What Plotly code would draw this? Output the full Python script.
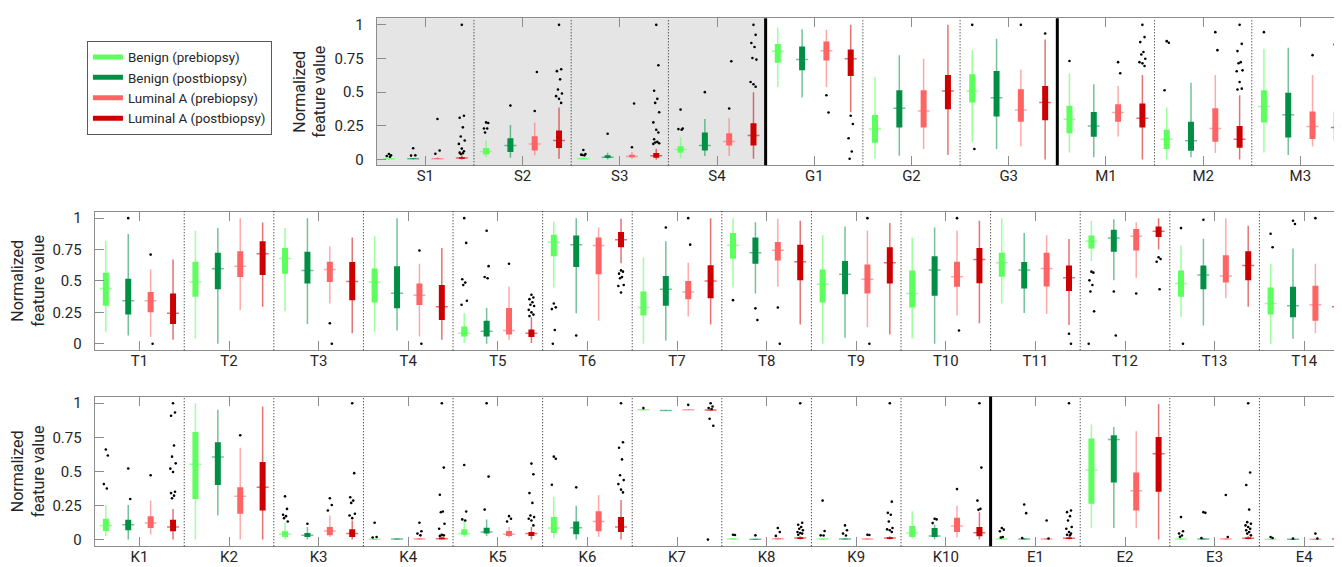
import plotly.graph_objects as go

# ---------------- data ----------------
SERIES = ["Benign (prebiopsy)", "Benign (postbiopsy)",
          "Luminal A (prebiopsy)", "Luminal A (postbiopsy)"]

# stats per feature: [lower whisker, q1, median, q3, upper whisker]
row1_features = ["S1", "S2", "S3", "S4", "G1", "G2", "G3", "M1", "M2", "M3"]
row1_benign_pre = [
    [0.0, 0.002, 0.004, 0.006, 0.01], [0.017, 0.037, 0.059, 0.084, 0.14],
    [0.0, 0.003, 0.005, 0.008, 0.012], [0.01, 0.049, 0.074, 0.098, 0.165],
    [0.538, 0.718, 0.803, 0.858, 0.98], [0.005, 0.123, 0.226, 0.33, 0.612],
    [0.13, 0.422, 0.509, 0.632, 0.812], [0.052, 0.195, 0.299, 0.398, 0.64],
    [0.0, 0.077, 0.15, 0.22, 0.385], [0.052, 0.274, 0.393, 0.514, 0.822]]
row1_benign_post = [
    [0.0, 0.002, 0.004, 0.006, 0.01], [0.012, 0.054, 0.103, 0.157, 0.256],
    [0.0, 0.01, 0.015, 0.03, 0.05], [0.025, 0.066, 0.103, 0.20, 0.30],
    [0.46, 0.663, 0.742, 0.84, 0.968], [0.027, 0.237, 0.38, 0.514, 0.775],
    [0.077, 0.319, 0.459, 0.657, 0.896], [0.015, 0.168, 0.249, 0.353, 0.558],
    [0.015, 0.064, 0.138, 0.279, 0.57], [0.032, 0.163, 0.331, 0.496, 0.83]]
row1_luminal_pre = [
    [0.0, 0.002, 0.005, 0.008, 0.015], [0.03, 0.066, 0.115, 0.172, 0.275],
    [0.005, 0.015, 0.022, 0.034, 0.054], [0.025, 0.103, 0.133, 0.194, 0.305],
    [0.538, 0.735, 0.808, 0.877, 0.963], [0.077, 0.237, 0.36, 0.514, 0.748],
    [0.096, 0.279, 0.368, 0.521, 0.669], [0.17, 0.279, 0.348, 0.41, 0.546],
    [0.047, 0.131, 0.23, 0.38, 0.627], [0.096, 0.151, 0.244, 0.356, 0.627]]
row1_luminal_post = [
    [0.0, 0.005, 0.01, 0.015, 0.03], [0.005, 0.084, 0.14, 0.214, 0.386],
    [0.0, 0.012, 0.027, 0.047, 0.079], [0.005, 0.103, 0.177, 0.268, 0.50],
    [0.35, 0.619, 0.749, 0.816, 1.0], [0.032, 0.373, 0.509, 0.627, 1.0],
    [0.0, 0.291, 0.422, 0.546, 0.891], [0.0, 0.237, 0.306, 0.415, 0.627],
    [0.0, 0.086, 0.15, 0.249, 0.477], [0.0, 0.138, 0.237, 0.356, 0.662]]
row1_benign_pre_out = [
    [0.04, 0.03, 0.025, 0.02], [0.275, 0.27, 0.23, 0.23, 0.20],
    [0.07, 0.04, 0.035, 0.03, 0.033], [0.37, 0.23, 0.225, 0.22],
    [], [], [1.0, 0.077], [0.731], [0.879, 0.867, 0.514], [0.946]]
row1_benign_post_out = [
    [0.083, 0.03, 0.028], [0.40], [0.19], [0.50], [], [], [], [], [], []]
row1_luminal_pre_out = [
    [0.30, 0.066, 0.042], [0.36, 0.65], [0.09, 0.415], [0.378, 0.73],
    [0.477, 0.349], [], [1.0], [0.723, 0.64], [0.946, 0.812], [0.775]]
row1_luminal_post_out = [
    [1.0, 0.324, 0.31, 0.238, 0.17, 0.14, 0.115, 0.08, 0.06, 0.05, 0.045, 0.04],
    [1.0, 0.67, 0.656, 0.595, 0.52, 0.49, 0.47, 0.45, 0.42],
    [1.0, 0.70, 0.51, 0.45, 0.42, 0.35, 0.275, 0.22, 0.20, 0.15, 0.13, 0.125, 0.12, 0.115],
    [1.0, 0.926, 0.865, 0.835, 0.754, 0.742, 0.575, 0.558, 0.54],
    [0.324, 0.263, 0.157, 0.059, 0.005], [], [0.936],
    [1.0, 0.909, 0.872, 0.798, 0.78, 0.748, 0.723, 0.714, 0.694],
    [1.0, 0.859, 0.805, 0.723, 0.715, 0.662, 0.655, 0.575, 0.526, 0.52],
    [1.0, 0.97, 0.854, 0.84, 0.743, 0.694]]

row2_features = ["T1", "T2", "T3", "T4", "T5", "T6", "T7", "T8", "T9", "T10",
                 "T11", "T12", "T13", "T14"]
row2_benign_pre = [
    [0.092, 0.303, 0.44, 0.566, 0.821], [0.04, 0.374, 0.492, 0.653, 0.9],
    [0.258, 0.558, 0.679, 0.763, 0.921], [0.092, 0.329, 0.492, 0.6, 0.855],
    [0.005, 0.058, 0.084, 0.137, 0.242], [0.447, 0.697, 0.808, 0.868, 0.974],
    [0.0, 0.224, 0.289, 0.416, 0.689], [0.447, 0.676, 0.784, 0.882, 1.0],
    [0.0, 0.329, 0.474, 0.592, 0.863], [0.04, 0.289, 0.4, 0.584, 0.847],
    [0.321, 0.534, 0.645, 0.724, 1.0], [0.658, 0.758, 0.816, 0.861, 0.979],
    [0.21, 0.374, 0.479, 0.584, 0.782], [0.0, 0.232, 0.321, 0.447, 0.637]]
row2_benign_post = [
    [0.066, 0.232, 0.342, 0.518, 0.874], [0.0, 0.434, 0.597, 0.724, 0.921],
    [0.158, 0.479, 0.584, 0.732, 1.0], [0.105, 0.282, 0.403, 0.618, 1.0],
    [0.0, 0.058, 0.1, 0.184, 0.284], [0.242, 0.611, 0.789, 0.861, 1.0],
    [0.026, 0.303, 0.434, 0.539, 0.816], [0.4, 0.637, 0.724, 0.847, 0.968],
    [0.047, 0.395, 0.553, 0.658, 0.934], [0.0, 0.382, 0.587, 0.697, 0.926],
    [0.245, 0.439, 0.587, 0.65, 0.882], [0.505, 0.732, 0.842, 0.908, 0.992],
    [0.145, 0.434, 0.547, 0.624, 0.837], [0.04, 0.21, 0.303, 0.453, 0.758]]
row2_luminal_pre = [
    [0.053, 0.25, 0.342, 0.413, 0.592], [0.268, 0.532, 0.618, 0.737, 1.0],
    [0.321, 0.492, 0.592, 0.653, 0.776], [0.058, 0.308, 0.387, 0.479, 0.637],
    [0.032, 0.074, 0.105, 0.284, 0.453], [0.184, 0.553, 0.782, 0.847, 0.926],
    [0.216, 0.355, 0.413, 0.5, 0.645], [0.453, 0.663, 0.745, 0.811, 0.995],
    [0.132, 0.4, 0.513, 0.632, 0.9], [0.224, 0.453, 0.534, 0.653, 0.9],
    [0.237, 0.455, 0.6, 0.724, 0.863], [0.526, 0.742, 0.855, 0.913, 0.968],
    [0.363, 0.487, 0.539, 0.705, 1.0], [0.084, 0.184, 0.311, 0.461, 0.637]]
row2_luminal_post = [
    [0.032, 0.158, 0.242, 0.40, 0.671], [0.295, 0.547, 0.716, 0.816, 0.966],
    [0.084, 0.347, 0.495, 0.65, 0.847], [0.032, 0.189, 0.295, 0.468, 0.763],
    [0.005, 0.053, 0.084, 0.113, 0.21], [0.64, 0.768, 0.829, 0.889, 0.995],
    [0.153, 0.363, 0.5, 0.626, 1.0], [0.153, 0.505, 0.653, 0.789, 0.979],
    [0.074, 0.479, 0.645, 0.768, 0.961], [0.163, 0.482, 0.671, 0.763, 0.979],
    [0.15, 0.421, 0.526, 0.624, 0.834], [0.75, 0.85, 0.895, 0.934, 1.0],
    [0.295, 0.505, 0.624, 0.737, 0.939], [0.066, 0.218, 0.295, 0.395, 0.658]]
row2_benign_pre_out = [
    [], [], [], [], [1.0, 0.803, 0.513, 0.487, 0.468, 0.342, 0.31],
    [0.321, 0.29, 0.276, 0.11, 0.0], [], [0.347], [], [], [],
    [0.574, 0.566, 0.505, 0.468, 0.416, 0.258, 0.0], [0.921, 0.0], [0.876, 0.768]]
row2_benign_post_out = [
    [1.0], [], [], [], [0.9, 0.618, 0.532, 0.521], [0.066], [0.926],
    [0.282, 0.189], [], [], [], [0.416, 0.066], [0.987], [0.979, 0.953]]
row2_luminal_pre_out = [
    [0.71, 0.0], [], [0.163, 0.0], [0.742, 0.0], [0.637], [], [1.0, 0.789],
    [0.289, 0.0], [1.0, 0.0], [1.0, 0.105], [], [0.4], [], [1.0]]
row2_luminal_post_out = [
    [], [], [], [], [0.39, 0.368, 0.355, 0.33, 0.31, 0.3, 0.27, 0.25, 0.232, 0.22],
    [0.584, 0.574, 0.558, 0.532, 0.522, 0.468, 0.46, 0.408], [], [], [], [],
    [0.079, 0.0], [0.689, 0.675, 0.653, 0.434], [], [0.716, 0.666]]

row3_features = ["K1", "K2", "K3", "K4", "K5", "K6", "K7", "K8", "K9", "K10",
                 "E1", "E2", "E3", "E4"]
row3_benign_pre = [
    [0.027, 0.063, 0.104, 0.153, 0.254], [0.0, 0.298, 0.552, 0.789, 1.0],
    [0.0, 0.019, 0.039, 0.061, 0.123], [0.0, 0.001, 0.002, 0.005, 0.008],
    [0.019, 0.036, 0.044, 0.075, 0.14], [0.012, 0.048, 0.085, 0.165, 0.315],
    [0.948, 0.95, 0.952, 0.954, 0.956], [0.0, 0.002, 0.005, 0.008, 0.012],
    [0.0, 0.002, 0.004, 0.007, 0.012], [0.007, 0.019, 0.048, 0.099, 0.208],
    [0.0, 0.002, 0.004, 0.006, 0.01], [0.085, 0.262, 0.511, 0.741, 0.843],
    [0.0, 0.002, 0.004, 0.006, 0.01], [0.0, 0.001, 0.002, 0.004, 0.006]]
row3_benign_post = [
    [0.0, 0.068, 0.109, 0.145, 0.254], [0.177, 0.4, 0.605, 0.714, 0.952],
    [0.0, 0.019, 0.031, 0.048, 0.092], [0.0, 0.002, 0.004, 0.006, 0.008],
    [0.027, 0.044, 0.056, 0.087, 0.148], [0.0, 0.039, 0.087, 0.133, 0.249],
    [0.945, 0.946, 0.947, 0.948, 0.95], [0.0, 0.001, 0.002, 0.004, 0.006],
    [0.0, 0.002, 0.004, 0.006, 0.01], [0.0, 0.019, 0.027, 0.085, 0.11],
    [0.0, 0.002, 0.004, 0.006, 0.01], [0.085, 0.419, 0.734, 0.765, 0.826],
    [0.0, 0.002, 0.004, 0.006, 0.01], [0.0, 0.001, 0.002, 0.004, 0.006]]
row3_luminal_pre = [
    [0.039, 0.085, 0.121, 0.172, 0.286], [0.0, 0.189, 0.317, 0.383, 0.673],
    [0.019, 0.031, 0.063, 0.092, 0.177], [0.0, 0.002, 0.005, 0.008, 0.012],
    [0.015, 0.027, 0.039, 0.063, 0.092], [0.019, 0.061, 0.133, 0.208, 0.327],
    [0.95, 0.951, 0.952, 0.953, 0.955], [0.0, 0.003, 0.007, 0.01, 0.015],
    [0.0, 0.002, 0.004, 0.007, 0.012], [0.015, 0.056, 0.099, 0.16, 0.249],
    [0.0, 0.002, 0.004, 0.006, 0.01], [0.085, 0.213, 0.358, 0.492, 0.794],
    [0.0, 0.002, 0.004, 0.006, 0.01], [0.0, 0.001, 0.002, 0.004, 0.006]]
row3_luminal_post = [
    [0.0, 0.061, 0.092, 0.145, 0.225], [0.0, 0.213, 0.383, 0.569, 0.976],
    [0.0, 0.019, 0.044, 0.075, 0.14], [0.0, 0.002, 0.007, 0.015, 0.025],
    [0.0, 0.027, 0.044, 0.056, 0.092], [0.0, 0.056, 0.092, 0.165, 0.291],
    [0.946, 0.948, 0.95, 0.952, 0.955], [0.0, 0.005, 0.012, 0.018, 0.025],
    [0.0, 0.005, 0.012, 0.018, 0.025], [0.0, 0.024, 0.051, 0.092, 0.201],
    [0.0, 0.004, 0.01, 0.016, 0.025], [0.0, 0.351, 0.63, 0.753, 0.995],
    [0.0, 0.004, 0.01, 0.016, 0.025], [0.0, 0.002, 0.005, 0.008, 0.012]]
row3_benign_pre_out = [
    [0.661, 0.617, 0.407, 0.375], [], [0.317, 0.225, 0.182, 0.172, 0.157, 0.133],
    [0.123, 0.019, 0.015], [0.547, 0.206, 0.148, 0.14], [0.608, 0.593, 0.402],
    [0.964], [0.036, 0.034], [0.286, 0.063, 0.031, 0.03], [],
    [0.085, 0.073, 0.061, 0.019, 0.015], [], [0.165, 0.061, 0.045, 0.03, 0.02],
    [0.019, 0.012]]
row3_benign_post_out = [
    [0.521, 0.298], [], [0.116], [], [1.0, 0.462, 0.22], [0.383], [], [0.031],
    [0.104, 0.068, 0.044, 0.03], [0.153, 0.148, 0.121], [0.257, 0.194, 0.012],
    [], [0.201, 0.196, 0.012], [0.008]]
row3_luminal_pre_out = [
    [0.472], [0.765], [0.303, 0.254, 0.213], [0.123, 0.061, 0.044, 0.031],
    [0.172, 0.153, 0.133], [], [0.988], [0.085, 0.056, 0.027], [0.036, 0.034],
    [0.37], [0.14, 0.008], [], [0.327, 0.019], [0.044, 0.008]]
row3_luminal_post_out = [
    [1.0, 0.932, 0.908, 0.69, 0.608, 0.559, 0.52, 0.496, 0.351, 0.341, 0.322, 0.303],
    [], [1.0, 0.487, 0.31, 0.286, 0.269, 0.189, 0.177, 0.157],
    [1.0, 0.528, 0.329, 0.206, 0.2, 0.116, 0.08, 0.036, 0.031, 0.027],
    [0.557, 0.479, 0.341, 0.269, 0.177, 0.165, 0.153, 0.14, 0.104],
    [1.0, 0.714, 0.673, 0.588, 0.472, 0.436, 0.407, 0.366, 0.346],
    [1.0, 0.976, 0.965, 0.958, 0.886, 0.835, 0.0],
    [1.0, 0.123, 0.109, 0.092, 0.08, 0.068, 0.056, 0.048, 0.044, 0.036],
    [1.0, 0.278, 0.196, 0.182, 0.133, 0.085, 0.075, 0.068, 0.056],
    [1.0, 0.528, 0.286, 0.225, 0.218],
    [1.0, 0.213, 0.201, 0.172, 0.14, 0.092, 0.08, 0.056, 0.044, 0.036, 0.031],
    [], [1.0, 0.492, 0.4, 0.22, 0.128, 0.116, 0.104, 0.092, 0.08, 0.068, 0.056, 0.044, 0.031],
    [0.051, 0.019, 0.012]]

Y_TICKS = [0, 0.25, 0.5, 0.75, 1]
Y_TICKTEXT = ["0", "0.25", "0.5", "0.75", "1"]

# ---------------- style ----------------
W, H = 1342, 567
COLORS = ["#5cff5c", "#008f45", "#ff6464", "#cc0000"]
FADED = ["rgba(92,255,92,0.6)", "rgba(0,143,69,0.55)",
         "rgba(255,100,100,0.55)", "rgba(204,0,0,0.55)"]
OFFSETS = [-0.375, -0.125, 0.125, 0.375]
AXCOL = "#8c8c8c"
TXT = "#262626"
FONT = "Roboto"

ROWS = [
    dict(features=row1_features,
         stats=[row1_benign_pre, row1_benign_post, row1_luminal_pre, row1_luminal_post],
         outs=[row1_benign_pre_out, row1_benign_post_out, row1_luminal_pre_out, row1_luminal_post_out],
         left=369, right=1342, top=8.3, bottom=156.7, yr=[-0.0442, 1.0494],
         shade=(0.5, 4.5), thick=[4.5, 7.5]),
    dict(features=row2_features,
         stats=[row2_benign_pre, row2_benign_post, row2_luminal_pre, row2_luminal_post],
         outs=[row2_benign_pre_out, row2_benign_post_out, row2_luminal_pre_out, row2_luminal_post_out],
         left=86.7, right=1342, top=203.3, bottom=343.3, yr=[-0.052, 1.053],
         shade=None, thick=[]),
    dict(features=row3_features,
         stats=[row3_benign_pre, row3_benign_post, row3_luminal_pre, row3_luminal_post],
         outs=[row3_benign_pre_out, row3_benign_post_out, row3_luminal_pre_out, row3_luminal_post_out],
         left=86.7, right=1342, top=390, bottom=541, yr=[-0.0487, 1.0487],
         shade=None, thick=[10.5]),
]

JIT = [0.0, 0.022, -0.022, 0.011, -0.011, 0.03, -0.03]

fig = go.Figure()
shapes = []
layout_axes = {}

for r, row in enumerate(ROWS):
    sfx = "" if r == 0 else str(r + 1)
    xa, ya = "x" + sfx, "y" + sfx
    n = len(row["features"])
    gw = (row["right"] - row["left"]) / n
    mhalf = 6.0 / gw
    ox, oy = [], []
    for s in range(4):
        wx, wy, bx, by, mx, my = [], [], [], [], [], []
        for g in range(n):
            lo, q1, med, q3, hi = row["stats"][s][g]
            pos = g + 1 + OFFSETS[s]
            wx += [pos, pos, None]; wy += [lo, hi, None]
            bx += [pos, pos, None]; by += [q1, q3, None]
            mx += [pos - mhalf, pos + mhalf, None]; my += [med, med, None]
            for k, v in enumerate(row["outs"][s][g]):
                ox.append(pos + JIT[k % len(JIT)])
                oy.append(v)
        fig.add_trace(go.Scatter(x=wx, y=wy, mode="lines", xaxis=xa, yaxis=ya,
                                 line=dict(color=FADED[s], width=1.5),
                                 showlegend=False, hoverinfo="skip"))
        fig.add_trace(go.Scatter(x=bx, y=by, mode="lines", xaxis=xa, yaxis=ya,
                                 line=dict(color=COLORS[s], width=6),
                                 showlegend=False, hoverinfo="skip"))
        fig.add_trace(go.Scatter(x=mx, y=my, mode="lines", xaxis=xa, yaxis=ya,
                                 line=dict(color=FADED[s], width=1.5),
                                 showlegend=False, hoverinfo="skip"))
    fig.add_trace(go.Scatter(x=ox, y=oy, mode="markers", xaxis=xa, yaxis=ya,
                             marker=dict(color="black", size=2.6),
                             showlegend=False, hoverinfo="skip"))

    if row["shade"]:
        shapes.append(dict(type="rect", xref=xa, yref=ya + " domain",
                           x0=row["shade"][0], x1=row["shade"][1], y0=0, y1=1,
                           fillcolor="#e5e5e5", line=dict(width=0), layer="below"))
    for b in range(1, n):
        xb = b + 0.5
        if xb in row["thick"]:
            shapes.append(dict(type="line", xref=xa, yref=ya + " domain",
                               x0=xb, x1=xb, y0=0, y1=1,
                               line=dict(color="black", width=3)))
        else:
            shapes.append(dict(type="line", xref=xa, yref=ya + " domain",
                               x0=xb, x1=xb, y0=0, y1=1,
                               line=dict(color="#1a1a1a", width=1, dash="1px,2px")))

    layout_axes["xaxis" + sfx] = dict(
        domain=[row["left"] / W, row["right"] / W], range=[0.5, n + 0.5],
        anchor=ya, tickmode="array", tickvals=list(range(1, n + 1)),
        ticktext=row["features"], ticks="inside", ticklen=9, tickcolor=AXCOL,
        showline=True, linecolor=AXCOL, linewidth=1, mirror="ticks",
        showgrid=False, zeroline=False, ticklabelstandoff=-3,
        tickfont=dict(family=FONT, size=15, color=TXT))
    layout_axes["yaxis" + sfx] = dict(
        domain=[1 - row["bottom"] / H, 1 - row["top"] / H], range=row["yr"],
        anchor=xa, tickmode="array", tickvals=Y_TICKS, ticktext=Y_TICKTEXT,
        ticks="inside", ticklen=9, tickcolor=AXCOL, showline=True,
        linecolor=AXCOL, linewidth=1, mirror="ticks", showgrid=False,
        zeroline=False, ticklabelstandoff=9,
        tickfont=dict(family=FONT, size=15, color=TXT),
        title=dict(text="Normalized<br>feature value", standoff=4,
                   font=dict(family=FONT, size=16, color=TXT)))

# legend entries
for s in range(4):
    fig.add_trace(go.Scatter(x=[None], y=[None], mode="lines", name=SERIES[s],
                             legendgroup=SERIES[s],
                             line=dict(color=COLORS[s], width=5)))

fig.update_layout(
    width=W, height=H, margin=dict(l=0, r=0, t=0, b=0),
    paper_bgcolor="white", plot_bgcolor="white",
    font=dict(family=FONT, color=TXT),
    shapes=shapes,
    showlegend=True,
    legend=dict(x=79 / W, y=1 - 31 / H, xanchor="left", yanchor="top",
                bordercolor="#595959", borderwidth=1, bgcolor="white",
                font=dict(family=FONT, size=13.4, color=TXT),
                tracegroupgap=0, itemwidth=30),
    **layout_axes)

fig.write_html("out.html")
